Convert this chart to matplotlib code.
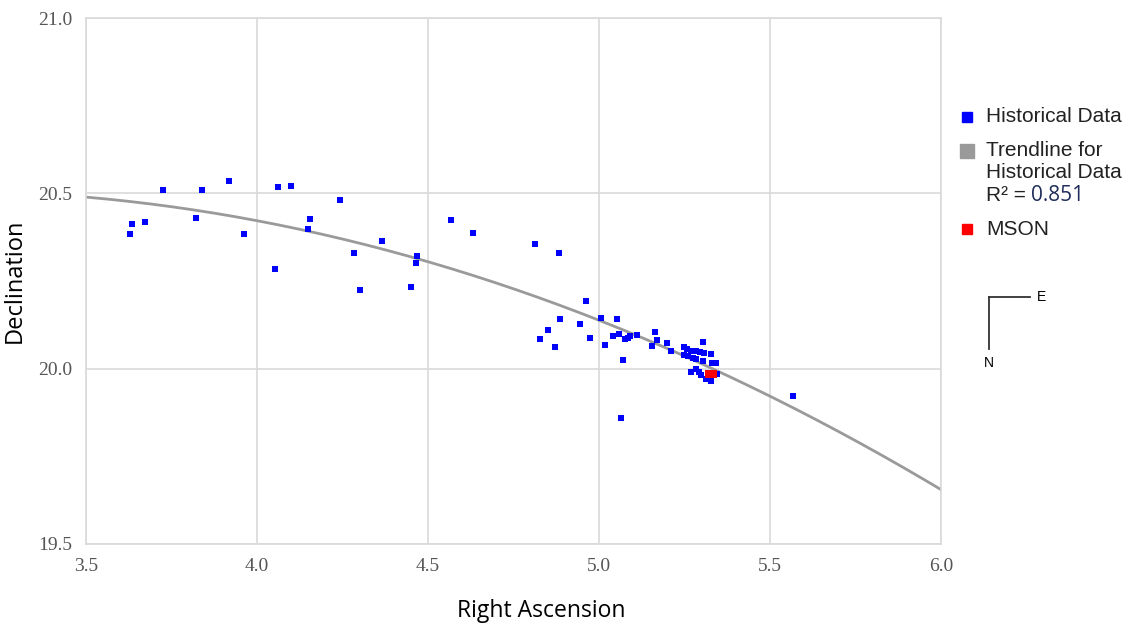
import numpy as np
import matplotlib.pyplot as plt
from matplotlib.lines import Line2D

# historical observations (right ascension, declination)
ra = [3.629, 3.635, 3.673, 3.725, 3.822, 3.838, 3.917, 3.961, 4.053, 4.062,
      4.099, 4.150, 4.156, 4.242, 4.285, 4.300, 4.367, 4.449, 4.468, 4.464,
      4.566, 4.632, 4.814, 4.882, 4.829, 4.850, 4.871, 4.886, 4.963, 4.945,
      4.973, 5.006, 5.054, 5.017, 5.041, 5.059, 5.075, 5.086, 5.090, 5.111,
      5.069, 5.065, 5.164, 5.171, 5.155, 5.200, 5.210, 5.304, 5.249, 5.258,
      5.268, 5.283, 5.294, 5.308, 5.327, 5.249, 5.260, 5.274, 5.284, 5.305,
      5.331, 5.342, 5.268, 5.285, 5.292, 5.299, 5.313, 5.328, 5.344, 5.567]
dec = [20.385, 20.414, 20.419, 20.511, 20.431, 20.511, 20.536, 20.385, 20.285, 20.518,
       20.521, 20.398, 20.428, 20.482, 20.330, 20.225, 20.364, 20.232, 20.321, 20.301,
       20.423, 20.387, 20.357, 20.329, 20.086, 20.111, 20.063, 20.141, 20.194, 20.128,
       20.089, 20.144, 20.142, 20.069, 20.093, 20.099, 20.085, 20.088, 20.094, 20.097,
       20.025, 19.860, 20.104, 20.081, 20.065, 20.073, 20.051, 20.077, 20.061, 20.056,
       20.051, 20.051, 20.049, 20.046, 20.041, 20.040, 20.037, 20.031, 20.028, 20.023,
       20.017, 20.015, 19.992, 19.999, 19.992, 19.982, 19.970, 19.966, 19.985, 19.922]

mson_ra = [5.323, 5.334]
mson_dec = [19.986, 19.986]

# second order trendline
trend_x = [3.5, 4.0, 4.5, 5.0, 5.5, 6.0]
trend_y = [20.491, 20.420, 20.304, 20.140, 19.923, 19.654]
r2_text = "0.851"

fig = plt.figure(figsize=(11.31, 6.25), dpi=100)
ax = fig.add_axes([0.076, 0.1296, 0.756, 0.8414])

coef = np.polyfit(trend_x, trend_y, 2)
xs = np.linspace(3.5, 6.0, 200)
ax.plot(xs, np.polyval(coef, xs), color='#9a9a9a', lw=2, zorder=2)
ax.scatter(ra, dec, marker='s', s=20, color='#0000ff', zorder=3, linewidths=0)
ax.scatter(mson_ra, mson_dec, marker='s', s=40, color='#ff0000', zorder=4, linewidths=0)

ax.set_xlim(3.5, 6.0)
ax.set_ylim(19.5, 21.0)
ax.set_xticks([3.5, 4.0, 4.5, 5.0, 5.5, 6.0])
ax.set_yticks([19.5, 20.0, 20.5, 21.0])
ax.grid(True, color='#d9d9d9', lw=1.2)
ax.set_axisbelow(True)
for s in ax.spines.values():
    s.set_color('#d9d9d9')
    s.set_linewidth(1.2)
ax.tick_params(length=0, pad=10, labelsize=14, labelcolor='#555555')
for lab in ax.get_xticklabels() + ax.get_yticklabels():
    lab.set_fontfamily('Liberation Serif')

ax.set_xlabel("Right Ascension", fontsize=16.5, family='Open Sans', labelpad=18)
ax.xaxis.set_label_coords(0.533, -0.105)
ax.set_ylabel("Declination", fontsize=17, family='Open Sans', labelpad=8)

# legend drawn by hand on the figure
def fx(px):
    return px / 1131

def fy(py):
    return 1 - py / 625

lfont = dict(fontsize=15, family='Liberation Sans', color='#222222', va='center')
fig.add_artist(Line2D([fx(967)], [fy(117)], marker='s', ms=7, color='#0000ff', lw=0))
fig.add_artist(Line2D([fx(967)], [fy(151)], marker='s', ms=10, color='#9a9a9a', lw=0))
fig.add_artist(Line2D([fx(967)], [fy(229)], marker='s', ms=7, color='#ff0000', lw=0))
fig.text(fx(986), fy(117), "Historical Data", **lfont)
fig.text(fx(986), fy(151), "Trendline for", **lfont)
fig.text(fx(986), fy(173), "Historical Data", **lfont)
fig.text(fx(986), fy(195), "R² = ", **lfont)
fig.text(fx(1031), fy(195), r2_text, fontsize=15, family='Open Sans', color='#1f2d5a', va='center')
fig.text(fx(986), fy(229), "MSON", **lfont)

# compass
fig.add_artist(Line2D([fx(989), fx(989)], [fy(297), fy(349)], color='#333333', lw=1.3))
fig.add_artist(Line2D([fx(989), fx(1030)], [fy(297), fy(297)], color='#333333', lw=1.3))
fig.text(fx(1041), fy(297), "E", fontsize=10, family='Liberation Sans', ha='center', va='center')
fig.text(fx(989), fy(363), "N", fontsize=10, family='Liberation Sans', ha='center', va='center')

fig.savefig("out.png", dpi=100)
